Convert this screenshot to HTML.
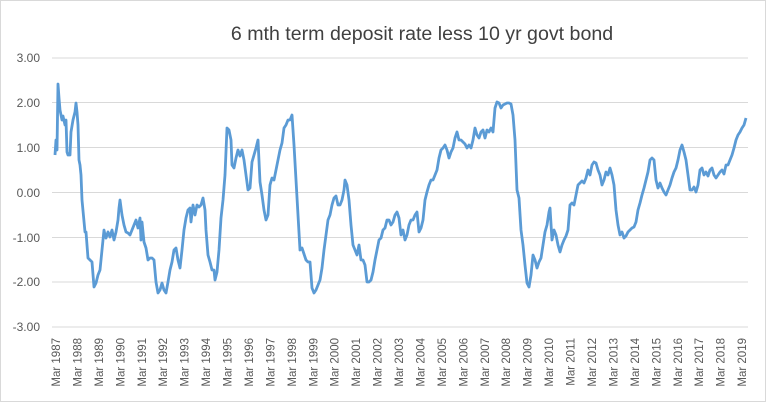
<!DOCTYPE html>
<html><head><style>
body{margin:0;background:#fff}
svg{display:block;font-family:"Liberation Sans",sans-serif}
</style></head><body>
<svg width="766" height="402" xmlns="http://www.w3.org/2000/svg">
<rect x="0.5" y="0.5" width="765" height="401" fill="#fff" stroke="#d9d9d9"/>
<text x="422" y="40" font-size="19.6" fill="#404040" text-anchor="middle">6 mth term deposit rate less 10 yr govt bond</text>
<g stroke="#d9d9d9" stroke-width="1">
<line x1="52" x2="748" y1="58" y2="58"/><line x1="52" x2="748" y1="102.5" y2="102.5"/>
<line x1="52" x2="748" y1="147.5" y2="147.5"/><line x1="52" x2="748" y1="192.5" y2="192.5"/>
<line x1="52" x2="748" y1="237.5" y2="237.5"/><line x1="52" x2="748" y1="282" y2="282"/>
<line x1="52" x2="748" y1="327" y2="327"/>
</g>
<g font-size="12" fill="#595959" text-anchor="end">
<text x="40" y="62">3.00</text><text x="40" y="107">2.00</text><text x="40" y="152">1.00</text>
<text x="40" y="197">0.00</text><text x="40" y="242">-1.00</text><text x="40" y="286">-2.00</text><text x="40" y="331">-3.00</text>
</g>
<g font-size="11.5" fill="#595959" text-anchor="end">
<text transform="translate(60,338) rotate(-90)">Mar 1987</text>
<text transform="translate(81.4,338) rotate(-90)">Mar 1988</text>
<text transform="translate(102.9,338) rotate(-90)">Mar 1989</text>
<text transform="translate(124.3,338) rotate(-90)">Mar 1990</text>
<text transform="translate(145.8,338) rotate(-90)">Mar 1991</text>
<text transform="translate(167.2,338) rotate(-90)">Mar 1992</text>
<text transform="translate(188.6,338) rotate(-90)">Mar 1993</text>
<text transform="translate(210.1,338) rotate(-90)">Mar 1994</text>
<text transform="translate(231.5,338) rotate(-90)">Mar 1995</text>
<text transform="translate(253,338) rotate(-90)">Mar 1996</text>
<text transform="translate(274.4,338) rotate(-90)">Mar 1997</text>
<text transform="translate(295.8,338) rotate(-90)">Mar 1998</text>
<text transform="translate(317.3,338) rotate(-90)">Mar 1999</text>
<text transform="translate(338.7,338) rotate(-90)">Mar 2000</text>
<text transform="translate(360.2,338) rotate(-90)">Mar 2001</text>
<text transform="translate(381.6,338) rotate(-90)">Mar 2002</text>
<text transform="translate(403,338) rotate(-90)">Mar 2003</text>
<text transform="translate(424.5,338) rotate(-90)">Mar 2004</text>
<text transform="translate(445.9,338) rotate(-90)">Mar 2005</text>
<text transform="translate(467.4,338) rotate(-90)">Mar 2006</text>
<text transform="translate(488.8,338) rotate(-90)">Mar 2007</text>
<text transform="translate(510.2,338) rotate(-90)">Mar 2008</text>
<text transform="translate(531.7,338) rotate(-90)">Mar 2009</text>
<text transform="translate(553.1,338) rotate(-90)">Mar 2010</text>
<text transform="translate(574.6,338) rotate(-90)">Mar 2011</text>
<text transform="translate(596,338) rotate(-90)">Mar 2012</text>
<text transform="translate(617.4,338) rotate(-90)">Mar 2013</text>
<text transform="translate(638.9,338) rotate(-90)">Mar 2014</text>
<text transform="translate(660.3,338) rotate(-90)">Mar 2015</text>
<text transform="translate(681.8,338) rotate(-90)">Mar 2016</text>
<text transform="translate(703.2,338) rotate(-90)">Mar 2017</text>
<text transform="translate(724.6,338) rotate(-90)">Mar 2018</text>
<text transform="translate(746.1,338) rotate(-90)">Mar 2019</text>
</g>
<polyline fill="none" stroke="#5b9bd5" stroke-width="2.8" stroke-linejoin="round" points="55,155 56,140 57,150 58,84 59,98 60,110 62,120 63,116 65,125 66,120 67,152 68,155 70,155 71,132 73,120 75,112 76,103 77,112 78,125 79,160 80,165 81,175 82,200 85,232 86,232 88,258 90,260 92,262 94,287 96,283 98,275 100,270 102,250 104,230 105,235 106,238 108,232 110,237 112,230 114,240 116,232 118,220 119,208 120,200 122,215 124,225 126,232 128,233 130,235 132,230 134,225 136,220 138,228 140,218 141,240 142,222 144,242 146,248 148,260 150,258 152,258 154,260 156,282 158,293 160,290 162,283 164,290 166,293 168,282 170,270 172,262 174,250 176,248 178,260 180,268 182,250 184,230 186,218 188,210 190,208 191,222 193,205 195,215 197,205 199,207 201,205 203,198 205,210 206,230 208,255 210,262 212,270 214,270 215,280 217,272 219,250 221,218 223,200 225,175 227,128 229,130 231,140 232,165 234,168 236,158 238,150 240,156 242,150 244,160 246,175 248,190 250,188 252,162 254,155 256,148 258,140 260,182 262,195 264,210 266,220 268,215 270,185 272,178 274,180 276,170 278,160 280,150 282,143 284,128 286,125 288,120 290,120 292,115 294,145 296,180 298,215 300,250 302,248 304,254 306,260 308,262 310,262 312,288 314,293 316,290 318,285 320,280 322,268 324,250 326,235 328,220 330,215 332,205 334,198 336,196 338,205 340,205 342,200 344,190 345,180 347,185 349,200 351,225 353,245 355,250 357,255 359,245 361,260 363,260 365,265 367,282 369,282 371,280 373,272 375,260 377,250 379,240 381,238 383,230 385,228 387,220 389,220 391,225 393,222 395,215 397,212 399,218 401,235 403,230 405,240 407,235 409,225 411,220 413,220 415,215 417,212 419,232 421,228 423,220 425,200 427,192 429,185 431,180 433,180 435,175 437,170 439,158 441,150 443,148 445,145 447,150 449,158 451,152 453,148 455,138 457,132 459,140 461,140 463,142 465,144 467,148 469,145 471,148 473,140 475,128 477,135 479,138 481,132 483,130 485,138 487,130 489,132 491,128 493,132 495,108 497,102 499,103 501,108 503,105 505,104 507,103 509,103 511,104 513,115 515,140 517,190 519,198 521,230 523,245 525,265 527,283 529,287 531,275 533,255 535,260 537,268 539,262 541,258 543,245 545,232 547,225 549,212 550,208 552,240 554,230 556,235 558,245 560,252 562,245 564,240 566,236 568,230 570,205 572,203 574,205 576,195 578,185 580,183 582,181 584,183 586,178 588,170 590,175 592,165 594,162 596,163 598,170 600,175 602,185 604,180 606,172 608,175 610,168 612,175 614,185 616,210 618,225 620,235 622,232 624,238 626,236 628,232 630,230 632,228 634,227 636,222 638,210 640,203 642,195 644,188 646,180 648,172 650,160 652,158 654,160 656,180 658,188 660,183 662,188 664,192 666,195 668,190 670,185 672,178 674,172 676,168 678,160 680,150 682,145 684,152 686,160 688,175 690,190 692,190 694,187 696,192 698,185 700,170 702,168 704,175 706,172 708,176 710,170 712,168 714,175 716,178 718,175 720,172 722,170 724,174 726,165 728,165 730,160 732,155 734,148 736,140 738,135 740,132 742,128 744,125 746,118"/>
</svg>
</body></html>
